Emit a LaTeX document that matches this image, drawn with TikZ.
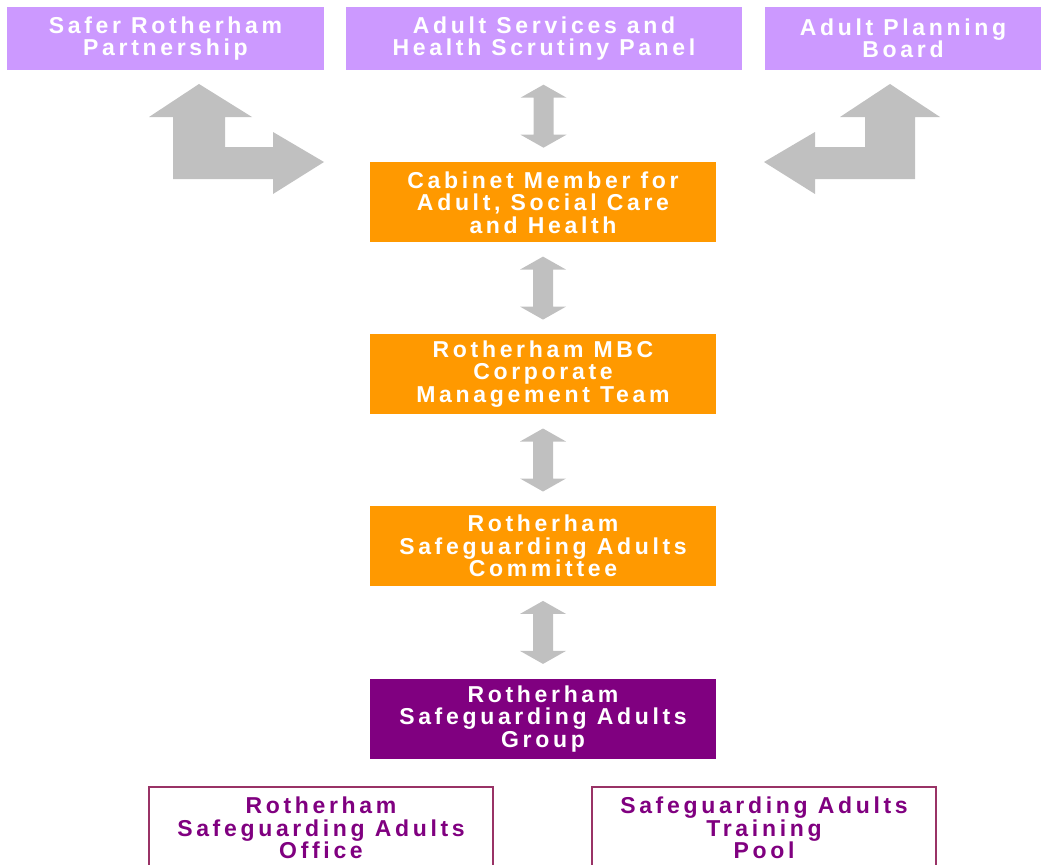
\documentclass[tikz,border=0pt]{standalone}
\usepackage{fontspec}
\newfontfamily\chartfont{Liberation Sans}[LetterSpace=16]
\usepackage{tikz}
\usetikzlibrary{positioning}
\definecolor{lilac}{HTML}{CC99FF}
\definecolor{amber}{HTML}{FF9900}
\definecolor{plum}{HTML}{800080}
\definecolor{wine}{HTML}{993366}
\definecolor{arrowgrey}{HTML}{C0C0C0}
\tikzstyle{box_style} = [rectangle, align=center, inner sep=0pt, font=\chartfont\bfseries\fontsize{23}{22.5}\selectfont]
\tikzstyle{top_style} = [box_style, fill=lilac, text=white, minimum height=63pt]
\tikzstyle{main_style} = [box_style, fill=amber, text=white, minimum width=346pt, minimum height=80pt]
\tikzstyle{group_style} = [box_style, fill=plum, text=white, minimum width=346pt, minimum height=80pt]
\tikzstyle{sub_style} = [box_style, draw=wine, line width=2.5pt, text=plum, minimum width=344pt, minimum height=82pt]
\tikzset{updown_arrow/.pic={
  \fill[arrowgrey] (0,-31.5) -- (23,-18.5) -- (10,-18.5) -- (10,18.5) -- (23,18.5) -- (0,31.5)
    -- (-23,18.5) -- (-10,18.5) -- (-10,-18.5) -- (-23,-18.5) -- cycle;}}

\begin{document}
\begin{tikzpicture}[x=1pt, y=-1pt]
  \useasboundingbox (0,0) rectangle (1048,864);
  \clip (0,0) rectangle (1048,864);

  % 第一行
  \node[top_style, minimum width=317pt] (srp) at (165.5,38.5) {Safer Rotherham\\Partnership};
  \node[top_style, minimum width=396pt] (asp) at (544,38.5) {Adult Services and\\Health Scrutiny Panel};
  \node[top_style, minimum width=276pt] (apb) at (903,38.5) {Adult Planning\\Board};

  % 中间一列
  \node[main_style, below=92pt of asp, xshift=-1pt] (cab) {Cabinet Member for\\Adult, Social Care\\and Health};
  \node[main_style, below=91pt of cab] (cmt) {Rotherham MBC\\Corporate\\Management Team};
  \node[main_style, below=92pt of cmt] (rsac) {Rotherham\\Safeguarding Adults\\Committee};
  \node[group_style, below=92pt of rsac] (rsag) {Rotherham\\Safeguarding Adults\\Group};

  % 最后一行
  \node[sub_style, below=27pt of rsag, xshift=-222pt] (office) {Rotherham\\Safeguarding Adults\\Office};
  \node[sub_style, below=27pt of rsag, xshift=221pt] (pool) {Safeguarding Adults\\Training\\Pool};

  % 双向箭头
  \path (asp.south) -- (cab.north) coordinate[midway] (a1);
  \path (cab.south) -- (cmt.north) coordinate[midway] (a2);
  \path (cmt.south) -- (rsac.north) coordinate[midway] (a3);
  \path (rsac.south) -- (rsag.north) coordinate[midway] (a4);
  \foreach \a in {a1,a2,a3,a4}
    \pic at (\a) {updown_arrow};

  % 拐角箭头
  \fill[arrowgrey] (199,84) -- (252,117) -- (225,117) -- (225,147) -- (273,147) -- (273,132)
    -- (324,162) -- (273,194) -- (273,179) -- (173,179) -- (173,117) -- (149,117) -- cycle;
  \fill[arrowgrey] (890,84) -- (940,117) -- (915,117) -- (915,179) -- (815,179) -- (815,194)
    -- (764,162) -- (815,132) -- (815,147) -- (865,147) -- (865,117) -- (840,117) -- cycle;

\end{tikzpicture}
\end{document}
